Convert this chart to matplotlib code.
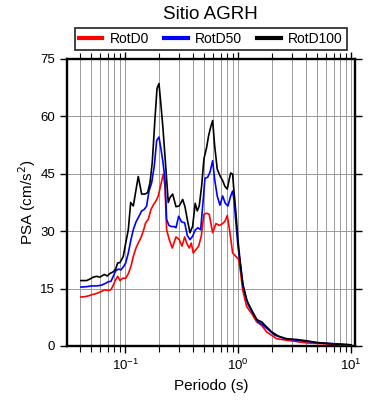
import matplotlib
matplotlib.use("Agg")
import matplotlib.pyplot as plt
from matplotlib.lines import Line2D
from matplotlib.ticker import LogLocator, FixedLocator, NullFormatter

plt.rcParams['font.family'] = ['Liberation Sans', 'DejaVu Sans']

# RotD0 (rojo)
periodo_d0 = [0.0405, 0.0440, 0.0471, 0.0504, 0.0539, 0.0577, 0.0618, 0.0661, 0.0707, 0.0747,
              0.0783, 0.0822, 0.0857, 0.0898, 0.0948, 0.1009, 0.1064, 0.1123, 0.1178, 0.1244,
              0.1303, 0.1377, 0.1443, 0.1516, 0.1600, 0.1688, 0.1783, 0.1869, 0.1959, 0.2070,
              0.2170, 0.2245, 0.2323, 0.2450, 0.2606, 0.2812, 0.3006, 0.3175, 0.3357, 0.3494,
              0.3684, 0.3839, 0.3999, 0.4224, 0.4464, 0.4707, 0.4969, 0.5248, 0.5537, 0.5934,
              0.6350, 0.6789, 0.7278, 0.7627, 0.7998, 0.8444, 0.892, 0.954, 1.008, 1.050,
              1.094, 1.187, 1.314, 1.455, 1.611, 1.783, 2.187, 2.681, 4.03, 6.93, 10.0]
psa_d0 = [12.8, 12.9, 13.1, 13.4, 13.6, 13.9, 14.3, 14.7, 14.5, 14.7,
          15.9, 17.3, 18.2, 17.1, 17.7, 17.7, 18.9, 20.8, 23.4, 25.6,
          26.9, 28.3, 30.0, 32.2, 33.1, 35.7, 37.0, 37.9, 39.2, 42.3,
          44.9, 41.8, 30.4, 27.8, 25.6, 28.5, 27.8, 26.1, 28.5, 26.9,
          25.6, 26.9, 24.3, 25.2, 26.1, 28.7, 34.4, 34.7, 34.4, 29.6,
          32.0, 31.5, 32.0, 32.6, 34.1, 29.6, 24.3, 23.4, 22.6, 19.1,
          14.7, 10.3, 8.5, 6.3, 5.4, 3.7, 1.9, 1.5, 0.8, 0.45, 0.2]

# RotD50 (azul)
periodo_d50 = [0.0405, 0.0455, 0.0504, 0.0558, 0.0618, 0.0671, 0.0707, 0.0747, 0.0783, 0.0822,
               0.0867, 0.0916, 0.0968, 0.1009, 0.1064, 0.1123, 0.1178, 0.1244, 0.1322, 0.1397,
               0.1474, 0.1546, 0.1622, 0.1714, 0.1807, 0.1897, 0.1988, 0.2070, 0.2158, 0.2245,
               0.2323, 0.2436, 0.2574, 0.2715, 0.2812, 0.2969, 0.3156, 0.3357, 0.3538, 0.374,
               0.3948, 0.416, 0.4398, 0.4650, 0.4899, 0.5073, 0.5361, 0.5619, 0.5934, 0.618,
               0.6516, 0.6887, 0.7278, 0.7673, 0.811, 0.857, 0.892, 0.916, 0.954, 0.994,
               1.050, 1.107, 1.226, 1.358, 1.503, 1.664, 1.842, 2.113, 2.590, 3.287,
               4.94, 7.94, 10.0]
psa_d50 = [15.4, 15.5, 15.7, 15.7, 15.9, 16.4, 16.8, 16.9, 18.2, 19.6,
           20.1, 19.9, 20.8, 21.7, 24.3, 27.8, 30.4, 32.4, 33.9, 35.3,
           35.7, 36.6, 40.5, 42.7, 47.1, 53.7, 54.6, 51.5, 48.0, 43.6,
           33.1, 31.5, 31.2, 31.2, 30.9, 33.9, 32.4, 32.2, 28.9, 27.8,
           28.7, 30.3, 30.9, 30.4, 38.3, 43.8, 44.1, 45.4, 48.4, 43.6,
           39.2, 36.8, 39.2, 37.3, 36.6, 39.2, 40.5, 38.3, 32.2, 26.1,
           20.8, 15.5, 10.7, 8.5, 6.3, 5.4, 4.3, 2.8, 1.9, 1.5,
           0.9, 0.5, 0.3]

# RotD100 (negro)
periodo_d100 = [0.0405, 0.0455, 0.0487, 0.0521, 0.0558, 0.0597, 0.0652, 0.0693, 0.0728, 0.0783,
                0.0822, 0.0857, 0.0898, 0.0960, 0.1009, 0.1064, 0.1117, 0.1178, 0.1219, 0.1303,
                0.1397, 0.1494, 0.1579, 0.1656, 0.1734, 0.1832, 0.1910, 0.1988, 0.2070, 0.2158,
                0.2245, 0.2323, 0.2402, 0.2487, 0.2627, 0.2812, 0.3006, 0.3222, 0.3377, 0.3538,
                0.374, 0.3948, 0.416, 0.4337, 0.4516, 0.4742, 0.4969, 0.5248, 0.547, 0.570,
                0.5934, 0.618, 0.6516, 0.6887, 0.7278, 0.7627, 0.7998, 0.8326, 0.857, 0.892,
                0.916, 0.954, 0.994, 1.035, 1.094, 1.187, 1.314, 1.455, 1.611, 1.783,
                1.975, 2.258, 2.681, 3.287, 4.16, 4.94, 6.48, 10.0]
psa_d100 = [17.1, 17.1, 17.5, 18.0, 18.2, 18.0, 18.7, 18.3, 18.9, 19.4,
            20.1, 21.7, 21.8, 23.4, 26.9, 30.4, 37.5, 36.6, 39.2, 44.3,
            39.7, 39.7, 40.1, 42.7, 48.0, 59.4, 67.3, 68.6, 62.9, 56.8,
            49.7, 43.6, 37.5, 38.8, 39.7, 36.4, 36.6, 38.3, 36.4, 33.1,
            29.6, 31.3, 37.3, 35.3, 36.6, 41.8, 48.9, 51.9, 55.0, 57.2,
            58.9, 52.4, 46.2, 44.5, 43.2, 41.7, 41.0, 43.6, 45.2, 44.9,
            40.5, 34.8, 27.8, 22.6, 16.4, 12.0, 9.4, 6.9, 6.3, 5.0,
            3.7, 2.6, 1.9, 1.7, 1.3, 0.9, 0.6, 0.3]

series = ['RotD0', 'RotD50', 'RotD100']
colores = ['red', 'blue', 'black']
y_ticks = [0, 15, 30, 45, 60, 75]

fig = plt.figure(figsize=(3.9, 4.0), dpi=100)
ax = fig.add_axes([67 / 390, 54 / 400, 288 / 390, 287 / 400])

ax.set_xscale('log')
ax.set_xlim(0.0305, 10.8)
ax.set_ylim(0, 75)

ax.grid(True, which='both', axis='x', color='#8c8c8c', linewidth=0.6)
ax.grid(True, which='major', axis='y', color='#8c8c8c', linewidth=0.6)
ax.set_axisbelow(True)

datos = [(periodo_d0, psa_d0), (periodo_d50, psa_d50), (periodo_d100, psa_d100)]
for (T, psa), c in zip(datos, colores):
    ax.plot(T, psa, color=c, linewidth=1.2, zorder=3)

ax.xaxis.set_major_locator(LogLocator(base=10, numticks=10))
ax.xaxis.set_minor_locator(LogLocator(base=10, subs=range(2, 10), numticks=20))
ax.xaxis.set_minor_formatter(NullFormatter())
ax.yaxis.set_major_locator(FixedLocator(y_ticks))

ax.tick_params(which='major', direction='out', length=5, width=1.0, labelsize=9.5,
               top=True, right=True, labeltop=False, labelright=False)
ax.tick_params(which='minor', direction='out', length=4, width=0.8,
               top=True, right=True)
for s in ax.spines.values():
    s.set_linewidth(1.7)

ax.set_xlabel('Periodo (s)', fontsize=11, labelpad=4)
ax.set_ylabel('PSA (cm/s$^2$)', fontsize=11, labelpad=2)

fig.text(0.54, 0.963, 'Sitio AGRH', ha='center', va='center', fontsize=13.5)

handles = [Line2D([], [], color=c, linewidth=3) for c in colores]
leg = fig.legend(handles, series, loc='center', bbox_to_anchor=(0.54, 0.902), ncol=3,
                 fontsize=10, frameon=True, fancybox=False, edgecolor='black',
                 handlelength=1.7, handletextpad=0.5, columnspacing=1.1,
                 borderpad=0.3, borderaxespad=0)
leg.get_frame().set_linewidth(1.3)

fig.savefig('out.png', dpi=100)
